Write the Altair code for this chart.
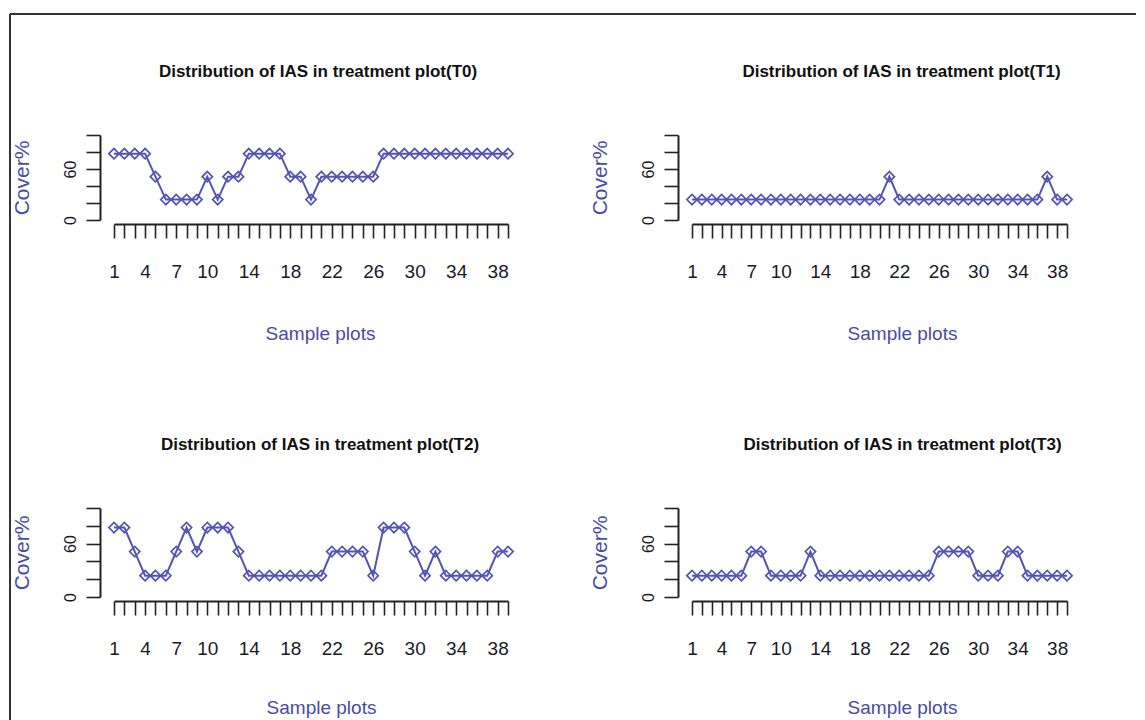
import altair as alt
import pandas as pd

# ---------------- data ----------------
sample_plots = list(range(1, 40))

cover_t0 = [78, 78, 78, 78, 51, 24, 24, 24, 24, 51,
            24, 51, 51, 78, 78, 78, 78, 51, 51, 24,
            51, 51, 51, 51, 51, 51, 78, 78, 78, 78,
            78, 78, 78, 78, 78, 78, 78, 78, 78]
cover_t1 = [24, 24, 24, 24, 24, 24, 24, 24, 24, 24,
            24, 24, 24, 24, 24, 24, 24, 24, 24, 24,
            51, 24, 24, 24, 24, 24, 24, 24, 24, 24,
            24, 24, 24, 24, 24, 24, 51, 24, 24]
cover_t2 = [78, 78, 51, 24, 24, 24, 51, 78, 51, 78,
            78, 78, 51, 24, 24, 24, 24, 24, 24, 24,
            24, 51, 51, 51, 51, 24, 78, 78, 78, 51,
            24, 51, 24, 24, 24, 24, 24, 51, 51]
cover_t3 = [24, 24, 24, 24, 24, 24, 51, 51, 24, 24,
            24, 24, 51, 24, 24, 24, 24, 24, 24, 24,
            24, 24, 24, 24, 24, 51, 51, 51, 51, 24,
            24, 24, 51, 51, 24, 24, 24, 24, 24]

panel_titles = ["Distribution of IAS in treatment plot(T0)",
                "Distribution of IAS in treatment plot(T1)",
                "Distribution of IAS in treatment plot(T2)",
                "Distribution of IAS in treatment plot(T3)"]

x_label_values = [1, 4, 7, 10, 14, 18, 22, 26, 30, 34, 38]
y_tick_values = [0, 20, 40, 60, 80, 100]
y_label_values = [0, 60]

# ---------------- style ----------------
FONT = "Liberation Sans, Arial, sans-serif"
LINE_BLUE = "#5454b2"
TITLE_BLUE = "#4a4aa8"
DARK = "#1a1a26"
AXIS = "#222222"


def panel(values, title, width, height, title_dx, xtitle_x, xtitle_pad, frame=None):
    df = pd.DataFrame({"plot": sample_plots, "cover": values})
    x_axis = alt.Axis(
        values=sample_plots, tickCount=len(sample_plots),
        labelExpr=f"indexof({x_label_values}, datum.value) >= 0 ? datum.label : ''",
        offset=4, tickSize=14, tickWidth=1.6, tickColor=AXIS,
        domainColor=AXIS, domainWidth=2,
        labelFont=FONT, labelFontSize=19, labelColor=DARK,
        labelPadding=24, labelOverlap=False, labelFlush=False,
        title="Sample plots", titleFont=FONT, titleFontSize=19,
        titleFontWeight="normal", titleColor=TITLE_BLUE, titlePadding=xtitle_pad,
        titleX=xtitle_x, titleAlign="center", grid=False,
    )
    y_axis = alt.Axis(
        values=y_tick_values, tickCount=len(y_tick_values),
        labelExpr=f"indexof({y_label_values}, datum.value) >= 0 ? datum.label : ''",
        offset=14, tickSize=14, tickWidth=1.6, tickColor=AXIS,
        domainColor=AXIS, domainWidth=2,
        labelFont=FONT, labelFontSize=16, labelColor=DARK,
        labelAngle=270, labelAlign="center", labelBaseline="alphabetic",
        labelPadding=11, labelOverlap=False, labelFlush=False,
        title="Cover%", titleFont=FONT, titleFontSize=21,
        titleFontWeight="normal", titleColor=TITLE_BLUE, titlePadding=30,
        grid=False,
    )
    base = alt.Chart(df)
    x_enc = alt.X("plot:Q", scale=alt.Scale(domain=[1, 39], nice=False, zero=False), axis=x_axis)
    y_enc = alt.Y("cover:Q", scale=alt.Scale(domain=[0, 100], nice=False), axis=y_axis)
    line = base.mark_line(color=LINE_BLUE, strokeWidth=2).encode(x=x_enc, y=y_enc)
    pts = base.mark_point(shape="diamond", filled=False, color=LINE_BLUE,
                          size=105, strokeWidth=1.7, opacity=1).encode(x="plot:Q", y="cover:Q")
    one = alt.Chart(pd.DataFrame({"k": [0]}))
    ttl = one.mark_text(font=FONT, fontSize=17, fontWeight="bold", color="#111111",
                        align="center", baseline="middle").encode(
        x=alt.value(width / 2 + title_dx), y=alt.value(-63), text=alt.value(title))
    layers = [line, pts, ttl]
    if frame is not None:
        left, top, right, bottom = frame
        layers.append(one.mark_rule(color="#333333", strokeWidth=2).encode(
            x=alt.value(left), y=alt.value(top), y2=alt.value(bottom)))
        layers.append(one.mark_rule(color="#333333", strokeWidth=2).encode(
            x=alt.value(left), x2=alt.value(right), y=alt.value(top)))
    return alt.layer(*layers).properties(width=width, height=height)


p0 = panel(cover_t0, panel_titles[0], 394, 85, 7, 206, 43, frame=(-104, -121, 1022, 590))
p1 = panel(cover_t1, panel_titles[1], 375, 85, 22, 210, 43)
p2 = panel(cover_t2, panel_titles[2], 394, 89, 9, 207, 40)
p3 = panel(cover_t3, panel_titles[3], 375, 89, 23, 210, 40)

chart = alt.concat(p0, p1, p2, p3, columns=2).properties(
    bounds="flush",
    align="each",
    spacing={"row": 288, "column": 184},
    padding={"left": 1, "top": 5, "right": 0, "bottom": 0},
    background="white",
).configure_view(stroke=None).configure_axis(grid=False)

chart.save("out.html", embed_options={"renderer": "svg", "actions": False})
